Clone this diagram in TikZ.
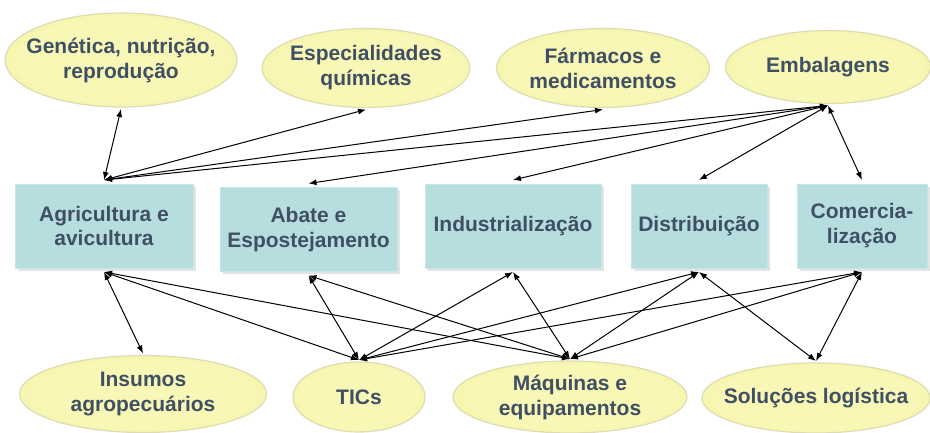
\documentclass[tikz,border=0pt]{standalone}
\usepackage{fontspec}
\setmainfont{Liberation Sans}
\usetikzlibrary{shapes.geometric,shadows,arrows.meta}

\definecolor{boxfill}{RGB}{183,222,223}
\definecolor{boxedge}{RGB}{200,230,231}
\definecolor{txtcol}{RGB}{64,80,100}
\definecolor{ellin}{RGB}{248,247,182}
\definecolor{ellout}{RGB}{235,233,112}
\definecolor{ellglow}{RGB}{222,220,180}

\pgfdeclareradialshading{bubbleshade}{\pgfpoint{0bp}{0bp}}{color(0bp)=(ellin); color(22bp)=(ellin); color(46bp)=(ellout); color(50bp)=(ellout)}

\tikzset{
  stage/.style={rectangle, fill=boxfill, draw=boxedge, line width=0.8pt,
    align=center, text=txtcol, font=\bfseries\fontsize{21}{25}\selectfont,
    inner sep=2pt, outer sep=4pt, minimum height=84pt,
    drop shadow={shadow xshift=3pt,shadow yshift=-3pt,fill=black!22}},
  bubble/.style={ellipse, shading=bubbleshade, draw=ellglow, line width=1.2pt,
    align=center, text=txtcol, font=\bfseries\fontsize{21}{25}\selectfont,
    inner sep=-30pt, outer sep=2pt},
  link/.style={<->, >={Latex[length=8pt,width=6pt]}, line width=1pt}
}

\begin{document}
\begin{tikzpicture}[x=1pt,y=1pt]
\useasboundingbox (0,0) rectangle (930,433);

% ---- chain stages (middle row)
\node[stage, minimum width=178pt] (agri)  at (104,207)   {Agricultura e\\avicultura};
\node[stage, minimum width=177pt] (abate) at (308.5,203.5) {Abate e\\Espostejamento};
\node[stage, minimum width=176pt] (indus) at (513,207)   {Industrialização};
\node[stage, minimum width=136pt] (distr) at (699,207)   {Distribuição};
\node[stage, minimum width=130pt] (comer) at (862,207)   {Comercia-\\lização};

% ---- suppliers, top row
\node[bubble, minimum width=232pt, minimum height=94pt] (genet) at (121,373) {Genética, nutrição,\\reprodução};
\node[bubble, minimum width=208pt, minimum height=79pt] (espec) at (366,365) {Especialidades\\químicas};
\node[bubble, minimum width=213pt, minimum height=79pt] (farma) at (603,365) {Fármacos e\\medicamentos};
\node[bubble, minimum width=205pt, minimum height=73pt] (embal) at (828,366) {Embalagens};

% ---- suppliers, bottom row
\node[bubble, minimum width=247pt, minimum height=77pt] (insum) at (143,39) {Insumos\\agropecuários};
\node[bubble, minimum width=132pt, minimum height=70pt] (tics)  at (359,36) {TICs};
\node[bubble, minimum width=234pt, minimum height=72pt] (maqui) at (570,36) {Máquinas e\\equipamentos};
\node[bubble, minimum width=228pt, minimum height=70pt] (logis) at (816,35) {Soluções logística};

% ---- links to the top row
\foreach \a/\b in {agri/genet, agri/espec, agri/farma, agri/embal,
                   abate/embal, indus/embal, distr/embal, comer/embal}
  \draw[link] (\a.north) -- (\b.south);

% ---- links to the bottom row
\foreach \a/\b in {agri/insum, agri/tics, agri/maqui,
                   abate/tics, abate/maqui,
                   indus/tics, indus/maqui,
                   distr/tics, distr/maqui, distr/logis,
                   comer/tics, comer/maqui, comer/logis}
  \draw[link] (\a.south) -- (\b.north);

\end{tikzpicture}
\end{document}
